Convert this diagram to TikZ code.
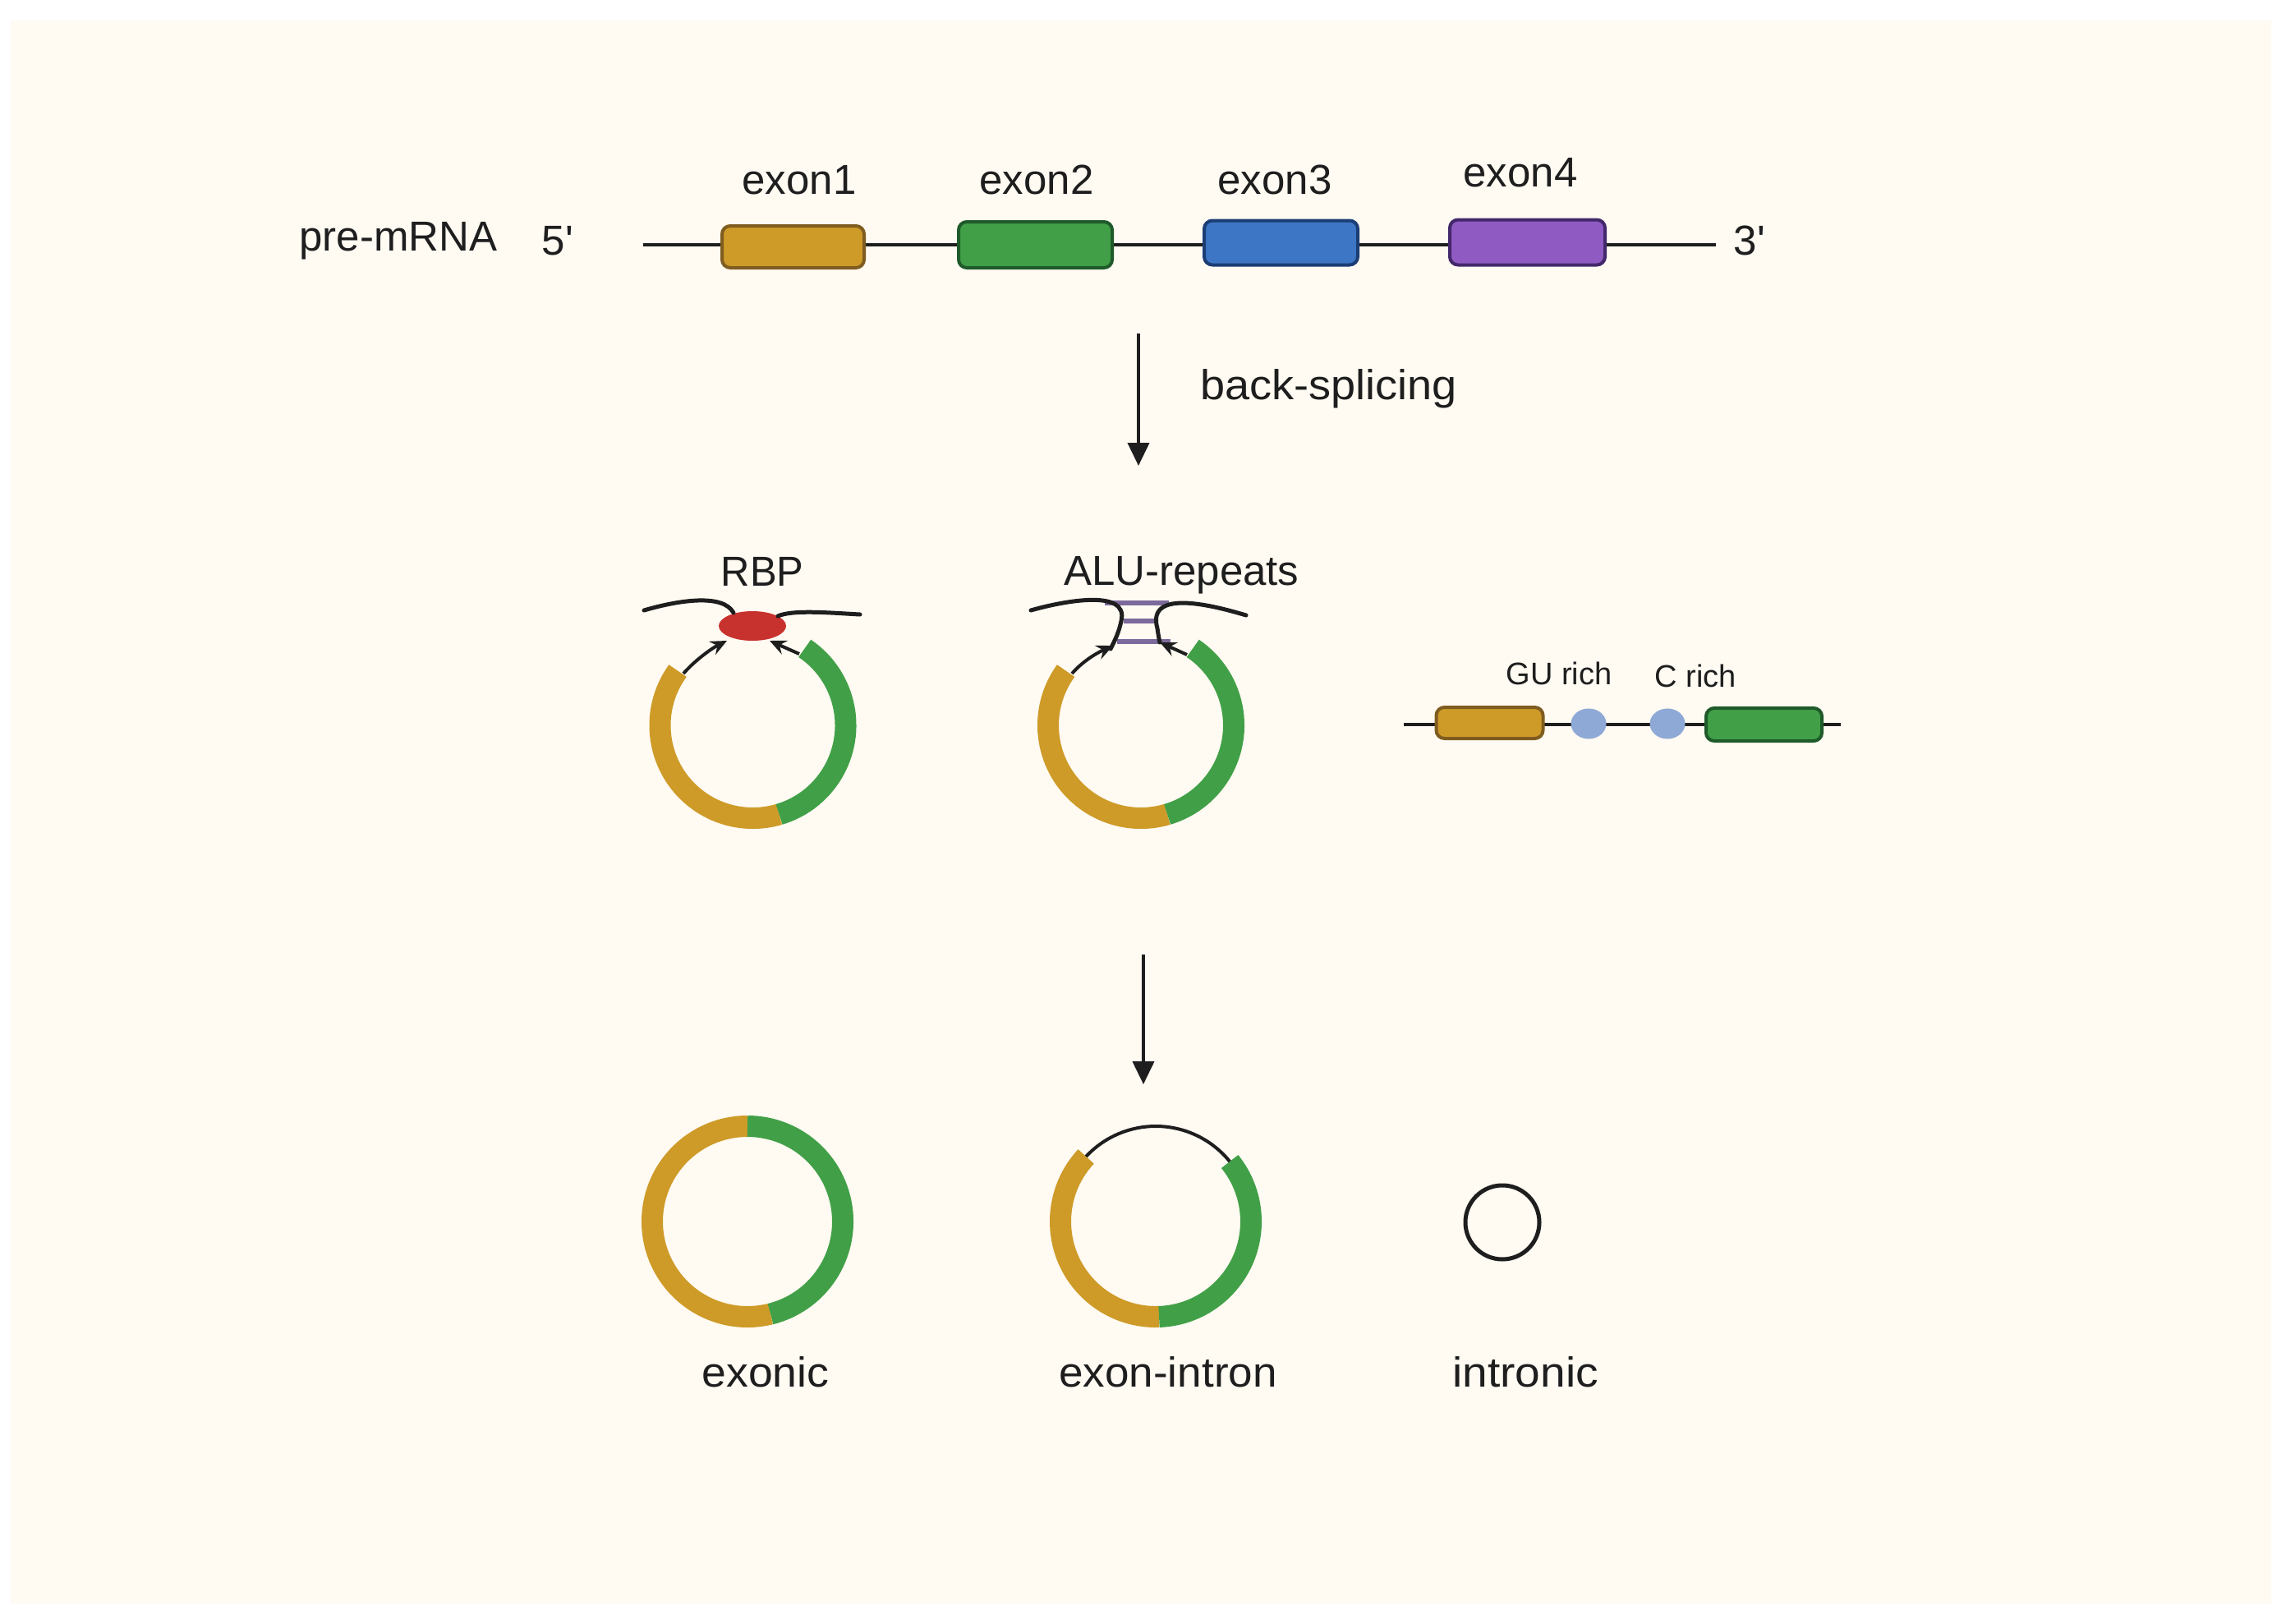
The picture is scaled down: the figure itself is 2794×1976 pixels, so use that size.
\documentclass[tikz,border=0pt]{standalone}
\usepackage{graphicx}
\usepackage{fontspec}
\setmainfont{Liberation Sans}
\newfontfamily\plainsans{Liberation Sans}
\usetikzlibrary{arrows.meta,shapes.geometric}
\definecolor{bgc}{HTML}{FFFAF2}
\definecolor{goldc}{HTML}{CE9B28}
\definecolor{goldd}{HTML}{7F5C20}
\definecolor{greenc}{HTML}{41A047}
\definecolor{greend}{HTML}{1F5A2A}
\definecolor{bluec}{HTML}{3D76C4}
\definecolor{blued}{HTML}{1B3D75}
\definecolor{purpc}{HTML}{8F5BC2}
\definecolor{purpd}{HTML}{43286B}
\definecolor{redc}{HTML}{C8322E}
\definecolor{alu}{HTML}{7C6A9C}
\definecolor{gub}{HTML}{8FA9D6}
\definecolor{ink}{HTML}{1E1E1E}
\tikzset{
 x=1pt,y=1pt,
 lbl/.style={text=ink,font=\fontsize{51}{60}\selectfont,inner sep=0pt},
 smalllbl/.style={text=ink,font=\fontsize{38}{44}\selectfont,inner sep=0pt},
 exonbox/.style={draw,line width=4,rounded corners=10,inner sep=0pt},
 strand/.style={ink,line width=5,line cap=round},
 linker/.style={ink,line width=4},
 flow/.style={ink,line width=4,-{Triangle[length=28,width=26]}},
 hook/.style={ink,line width=4,-{Stealth[length=20,width=18,inset=7]}},
 ringpart/.style={line width=26},
 alubar/.style={alu,line width=6},
}
\newcommand{\ringarc}[6]{\draw[ringpart,#6] (#1,#2) ++(#4:#3) arc[start angle=#4,end angle=#5,radius=#3];}
\newcommand{\exon}[7]{\node[exonbox,fill=#6,draw=#7,minimum width=#4,minimum height=#5] (#1) at (#2,#3) {};}
\begin{document}
\begin{tikzpicture}
\useasboundingbox (0,0) rectangle (2794,-1976);
\fill[white] (0,0) rectangle (2794,-1976);
\fill[bgc] (13,-25) rectangle (2765,-1952);
% pre-mRNA
\coordinate (ps) at (783,-298);
\coordinate (pe) at (2089,-298);
\draw[linker] (ps) -- (pe);
\exon{e1}{965.5}{-300.5}{173}{51}{goldc}{goldd}
\exon{e2}{1260.5}{-298}{187}{56}{greenc}{greend}
\exon{e3}{1559.5}{-295.5}{187}{54}{bluec}{blued}
\exon{e4}{1859.5}{-295}{189}{55}{purpc}{purpd}
\node[lbl] (tpre) at (485,-293) {pre-mRNA};
\node[lbl] (t5) at (679,-293) {\plainsans 5'};
\node[lbl] (t3) at (2130,-293) {\plainsans 3'};
\node[lbl] (tx1) at (973,-219) {exon1};
\node[lbl] (tx2) at (1262,-219) {exon2};
\node[lbl] (tx3) at (1552,-219) {exon3};
\node[lbl] (tx4) at (1851,-210) {exon4};
% arrows
\coordinate (a1s) at (1386,-406);
\coordinate (a1e) at (1386,-567);
\draw[flow] (a1s) -- (a1e);
\node[lbl,anchor=west] (tback) at (1461,-473) {\scalebox{1.06}[1]{back-splicing}};
\coordinate (a2s) at (1392,-1162);
\coordinate (a2e) at (1392,-1320);
\draw[flow] (a2s) -- (a2e);
% RBP circle
\ringarc{916.5}{-883}{113}{144}{286.5}{goldc}
\ringarc{916.5}{-883}{113}{286.5}{416}{greenc}
\node[lbl] (trbp) at (928,-696) {\scalebox{.96}[1]{RBP}};
\node[ellipse,fill=redc,inner sep=0pt,minimum width=82,minimum height=36] (rbp) at (916,-762) {};
\coordinate (l1a) at (784,-743);
\coordinate (l1b) at (893,-746);
\draw[strand] (l1a) .. controls (825,-731) and (880,-722) .. (l1b);
\coordinate (r1a) at (947,-750);
\coordinate (r1b) at (1047,-748);
\draw[strand] (r1a) .. controls (965,-742) and (1010,-746) .. (r1b);
\coordinate (h1s) at (832,-820);
\coordinate (h1e) at (885,-780);
\draw[hook] (h1s) .. controls (845,-805) and (865,-790) .. (h1e);
\coordinate (h2s) at (973,-796);
\coordinate (h2e) at (937,-780);
\draw[hook] (h2s) -- (h2e);
% ALU circle
\ringarc{1389}{-883}{113}{144}{286.5}{goldc}
\ringarc{1389}{-883}{113}{286.5}{416}{greenc}
\node[lbl,anchor=west] (talu) at (1295,-700) {ALU-repeats};
\coordinate (b1a) at (1345,-734);
\coordinate (b1b) at (1423,-734);
\coordinate (b2a) at (1368,-756);
\coordinate (b2b) at (1405,-756);
\coordinate (b3a) at (1360,-781);
\coordinate (b3b) at (1425,-781);
\draw[alubar] (b1a) -- (b1b);
\draw[alubar] (b2a) -- (b2b);
\draw[alubar] (b3a) -- (b3b);
\coordinate (l2a) at (1255,-743);
\coordinate (l2b) at (1352,-790);
\draw[strand] (l2a) .. controls (1290,-733) and (1375,-715) .. (1365,-756) .. controls (1362,-770) and (1358,-778) .. (l2b);
\coordinate (r2a) at (1517,-749);
\coordinate (r2b) at (1412,-782);
\draw[strand] (r2a) .. controls (1480,-738) and (1395,-715) .. (1409,-765) .. controls (1410,-772) and (1411,-778) .. (r2b);
\coordinate (h3s) at (1305,-820);
\coordinate (h3e) at (1355,-786);
\draw[hook] (h3s) .. controls (1318,-805) and (1335,-795) .. (h3e);
\coordinate (h4s) at (1445,-797);
\coordinate (h4e) at (1412,-782);
\draw[hook] (h4s) -- (h4e);
% small construct
\coordinate (cs) at (1709,-882);
\coordinate (ce) at (2241,-882);
\draw[linker] (cs) -- (ce);
\exon{s1}{1813.5}{-880}{130}{38}{goldc}{goldd}
\exon{s2}{2147.5}{-882}{141}{40}{greenc}{greend}
\node[ellipse,fill=gub,inner sep=0pt,minimum width=43,minimum height=37] (gu) at (1934,-881) {};
\node[ellipse,fill=gub,inner sep=0pt,minimum width=43,minimum height=37] (cr) at (2030,-881) {};
\node[smalllbl] (tgu) at (1898,-820) {GU rich};
\node[smalllbl] (tc) at (2064,-823) {C rich};
% products
\ringarc{910}{-1487}{116}{90}{284}{goldc}
\ringarc{910}{-1487}{116}{284}{450}{greenc}
\ringarc{1407}{-1487}{116}{137}{272}{goldc}
\ringarc{1407}{-1487}{116}{272}{399}{greenc}
\draw[ink,line width=4] (1407,-1487) ++(39:116) arc[start angle=39,end angle=137,radius=116];
\node[circle,draw=ink,line width=5,inner sep=0pt,minimum size=90] (intr) at (1829,-1488) {};
\node[lbl] (tex) at (932,-1670) {\scalebox{1.05}[1]{exonic}};
\node[lbl] (tei) at (1422,-1670) {\scalebox{1.04}[1]{exon-intron}};
\node[lbl] (tin) at (1857,-1670) {\scalebox{1.08}[1]{intronic}};
\end{tikzpicture}
\end{document}
